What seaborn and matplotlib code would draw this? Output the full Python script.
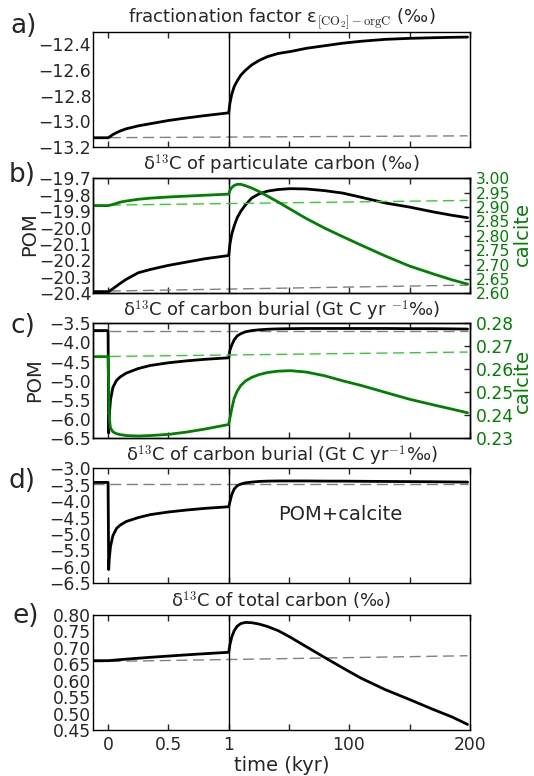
import numpy as np
import matplotlib
matplotlib.use("Agg")
import matplotlib.pyplot as plt
from matplotlib.ticker import FuncFormatter, FixedLocator, NullLocator
import seaborn as sns

# ---------------- data ----------------
time_kyr = [-0.125, 0.0, 0.005, 0.01, 0.02, 0.04, 0.07, 0.1, 0.15, 0.25, 0.35, 0.5, 0.65, 0.8, 1.0,
            2, 3.5, 5.5, 8, 11, 15, 20, 26, 33, 42, 52, 65, 80, 95, 110, 130, 150, 170, 185, 198]

eps_co2_orgc = [-13.13, -13.13, -13.128, -13.125, -13.118, -13.105, -13.09, -13.077, -13.06, -13.037,
                -13.02, -12.995, -12.975, -12.957, -12.935,
                -12.86, -12.79, -12.73, -12.685, -12.64, -12.60, -12.56, -12.525, -12.495, -12.47,
                -12.455, -12.43, -12.41, -12.39, -12.375, -12.36, -12.352, -12.347, -12.344, -12.342]

d13c_pom = [-20.39, -20.39, -20.389, -20.387, -20.382, -20.372, -20.356, -20.34, -20.315, -20.275,
            -20.255, -20.23, -20.21, -20.19, -20.17,
            -20.10, -20.04, -19.99, -19.94, -19.90, -19.86, -19.82, -19.795, -19.778, -19.768,
            -19.763, -19.765, -19.775, -19.79, -19.815, -19.85, -19.875, -19.905, -19.925, -19.94]

d13c_calcite = [2.905, 2.905, 2.9055, 2.906, 2.907, 2.909, 2.913, 2.917, 2.921, 2.927,
                2.931, 2.935, 2.938, 2.941, 2.945,
                2.958, 2.968, 2.975, 2.979, 2.979, 2.974, 2.966, 2.954, 2.938, 2.917,
                2.892, 2.86, 2.827, 2.797, 2.768, 2.73, 2.695, 2.667, 2.647, 2.632]

burial_pom = [-3.69, -3.69, -6.36, -5.9, -5.5, -5.17, -4.99, -4.9, -4.8, -4.68,
              -4.6, -4.53, -4.48, -4.44, -4.40,
              -4.2, -4.07, -3.93, -3.83, -3.77, -3.72, -3.69, -3.67, -3.655, -3.645,
              -3.64, -3.635, -3.635, -3.635, -3.635, -3.635, -3.64, -3.64, -3.645, -3.65]

burial_calcite = [0.2655, 0.2655, 0.252, 0.2385, 0.2345, 0.2328, 0.232, 0.2316, 0.2312, 0.231,
                  0.2312, 0.2317, 0.2327, 0.234, 0.236,
                  0.2388, 0.2428, 0.2474, 0.2505, 0.2530, 0.2550, 0.2565, 0.2577, 0.2586, 0.2592,
                  0.2594, 0.2588, 0.2572, 0.2550, 0.2530, 0.2500, 0.2470, 0.2445, 0.2427, 0.2411]

burial_total = [-3.43, -3.43, -6.08, -5.75, -5.38, -5.05, -4.83, -4.73, -4.62, -4.5,
                -4.41, -4.33, -4.27, -4.22, -4.17,
                -4.02, -3.8, -3.63, -3.53, -3.48, -3.44, -3.42, -3.40, -3.39, -3.385,
                -3.385, -3.385, -3.39, -3.39, -3.395, -3.40, -3.405, -3.41, -3.415, -3.42]

d13c_total = [0.661, 0.661, 0.6611, 0.6613, 0.6616, 0.6622, 0.6632, 0.6641, 0.6656, 0.6685,
              0.6712, 0.675, 0.6787, 0.6822, 0.6865,
              0.71, 0.733, 0.752, 0.766, 0.774, 0.7775, 0.7765, 0.7725, 0.765, 0.752,
              0.732, 0.7035, 0.671, 0.639, 0.608, 0.573, 0.543, 0.512, 0.49, 0.467]

# control runs (dashed)
ctrl_time = [-0.125, 198]
ctrl_eps = [-13.13, -13.115]
ctrl_pom = [-20.388, -20.35]
ctrl_calcite = [2.906, 2.923]
ctrl_burial_pom = [-3.69, -3.69]
ctrl_burial_calcite = [0.2655, 0.2675]
ctrl_burial_total = [-3.47, -3.47]
ctrl_total = [0.658, 0.676]

xtick_values = [0, 0.5, 1, 50.75, 100, 150.25, 200]
xtick_labels = ["0", "0.5", "1", "", "100", "", "200"]

yticks_a = [-13.2, -13.0, -12.8, -12.6, -12.4]
yticks_b = [-20.4, -20.3, -20.2, -20.1, -20.0, -19.9, -19.8, -19.7]
yticks_b2 = [2.60, 2.65, 2.70, 2.75, 2.80, 2.85, 2.90, 2.95, 3.00]
yticks_c = [-6.5, -6.0, -5.5, -5.0, -4.5, -4.0, -3.5]
yticks_c2 = [0.23, 0.24, 0.25, 0.26, 0.27, 0.28]
yticks_d = [-6.5, -6.0, -5.5, -5.0, -4.5, -4.0, -3.5, -3.0]
yticks_e = [0.45, 0.50, 0.55, 0.60, 0.65, 0.70, 0.75, 0.80]

# ---------------- style ----------------
sns.set_style("ticks")
plt.rcParams.update({
    "font.family": ["DejaVu Sans"],
    "mathtext.fontset": "cm",
    "axes.linewidth": 1.0,
    "axes.edgecolor": "black",
})

GREEN = "#008000"
LGREEN = "#33cc33"
GRAY = "0.5"
TICK_FS = 12.3
DASH = (0, (8, 4))


def fwd(t):
    t = np.asarray(t, dtype=float)
    return np.where(t <= 1, t, 1 + (t - 1) / 99.5)


def inv(u):
    u = np.asarray(u, dtype=float)
    return np.where(u <= 1, u, 1 + (u - 1) * 99.5)


def fmt(decimals):
    return FuncFormatter(lambda v, p: f"{v:.{decimals}f}".replace("-", "\u2212"))


def line(ax, x, y, **kw):
    sns.lineplot(x=x, y=y, ax=ax, sort=False, estimator=None, legend=False, **kw)


W, H = 534, 776
fig = plt.figure(figsize=(W / 100, H / 100), dpi=100)
left = 93 / W
width = 377 / W
ph = 115 / H
tops = [31.7, 178.3, 323.3, 468.3, 615]


def make_ax(i):
    ax = fig.add_axes([left, 1 - (tops[i] + 115) / H, width, ph])
    ax.set_xscale("function", functions=(fwd, inv))
    return ax


def finish(ax, yticks, ylim, dec, show_x=False):
    ax.set_xlim(-0.125, 200)
    ax.xaxis.set_major_locator(FixedLocator(xtick_values))
    ax.xaxis.set_minor_locator(NullLocator())
    ax.set_xticklabels(xtick_labels)
    ax.tick_params(axis="x", direction="in", top=True, bottom=True, length=4, width=1,
                   labelsize=TICK_FS, pad=4, labelbottom=show_x)
    ax.set_ylim(*ylim)
    ax.yaxis.set_major_locator(FixedLocator(yticks))
    ax.yaxis.set_minor_locator(NullLocator())
    ax.yaxis.set_major_formatter(fmt(dec))
    ax.tick_params(axis="y", direction="in", left=True, right=False, length=0,
                   labelsize=TICK_FS, pad=1.2)
    ax.axvline(1, color="k", lw=1)
    ax.set_xlabel("")
    ax.set_ylabel("")
    for s in ax.spines.values():
        s.set_visible(True)
        s.set_linewidth(1.0)


def finish_twin(tw, yticks, ylim, fs):
    tw.set_ylim(*ylim)
    tw.yaxis.set_major_locator(FixedLocator(yticks))
    tw.yaxis.set_minor_locator(NullLocator())
    tw.yaxis.set_major_formatter(fmt(2))
    tw.tick_params(axis="y", direction="in", right=True, left=False, length=4, width=1,
                   labelsize=fs, pad=4, labelcolor=GREEN)
    tw.set_ylabel("")


# ---- a) ----
axa = make_ax(0)
line(axa, ctrl_time, ctrl_eps, color=GRAY, lw=1, linestyle=DASH)
line(axa, time_kyr, eps_co2_orgc, color="k", lw=2)
finish(axa, yticks_a, (-13.2, -12.3), 1)
axa.set_title(r"fractionation factor ε$_{\mathrm{[CO_2]-orgC}}$ (‰)", fontsize=13, pad=5)

# ---- b) ----
axb = make_ax(1)
line(axb, ctrl_time, ctrl_pom, color=GRAY, lw=1, linestyle=DASH)
line(axb, time_kyr, d13c_pom, color="k", lw=2)
finish(axb, yticks_b, (-20.4, -19.7), 1)
axb2 = axb.twinx()
line(axb2, ctrl_time, ctrl_calcite, color=LGREEN, lw=1, linestyle=DASH)
line(axb2, time_kyr, d13c_calcite, color=GREEN, lw=2)
finish_twin(axb2, yticks_b2, (2.60, 3.00), 11.2)
axb.set_title(r"δ$^{13}$C of particulate carbon (‰)", fontsize=13, pad=5.8)

# ---- c) ----
axc = make_ax(2)
line(axc, ctrl_time, ctrl_burial_pom, color=GRAY, lw=1, linestyle=DASH)
line(axc, time_kyr, burial_pom, color="k", lw=2)
finish(axc, yticks_c, (-6.5, -3.5), 1)
axc2 = axc.twinx()
line(axc2, ctrl_time, ctrl_burial_calcite, color=LGREEN, lw=1, linestyle=DASH)
line(axc2, time_kyr, burial_calcite, color=GREEN, lw=2)
finish_twin(axc2, yticks_c2, (0.23, 0.28), TICK_FS)
axc.set_title(r"δ$^{13}$C of carbon burial (Gt C yr $^{-1}$‰)", fontsize=13, pad=4.7)

# ---- d) ----
axd = make_ax(3)
line(axd, ctrl_time, ctrl_burial_total, color=GRAY, lw=1, linestyle=DASH)
line(axd, time_kyr, burial_total, color="k", lw=2)
finish(axd, yticks_d, (-6.5, -3.0), 1)
axd.set_title(r"δ$^{13}$C of carbon burial (Gt C yr$^{-1}$‰)", fontsize=13, pad=3.6)
axd.text(0.655, 0.55, "POM+calcite", transform=axd.transAxes, fontsize=14,
         ha="center", va="baseline")

# ---- e) ----
axe = make_ax(4)
line(axe, ctrl_time, ctrl_total, color=GRAY, lw=1, linestyle=DASH)
line(axe, time_kyr, d13c_total, color="k", lw=2)
finish(axe, yticks_e, (0.45, 0.80), 2, show_x=True)
axe.set_title(r"δ$^{13}$C of total carbon (‰)", fontsize=13, pad=5.8)
axe.set_xlabel("time (kyr)", fontsize=14, labelpad=2)

# ---- side labels ----
fig.text(30 / W, 1 - 234 / H, "POM", rotation=90, fontsize=14, ha="center", va="center")
fig.text(35 / W, 1 - 380 / H, "POM", rotation=90, fontsize=14, ha="center", va="center")
fig.text(522 / W, 1 - 234 / H, "calcite", rotation=90, fontsize=14, color=GREEN,
         ha="center", va="center")
fig.text(522 / W, 1 - 381 / H, "calcite", rotation=90, fontsize=14, color=GREEN,
         ha="center", va="center")

# ---- panel letters ----
for lab, xp, yp in [("a)", 10, 33), ("b)", 8.5, 181.5), ("c)", 10, 333),
                    ("d)", 8.5, 488), ("e)", 12, 623)]:
    fig.text(xp / W, 1 - yp / H, lab, fontsize=19, ha="left", va="baseline")

fig.savefig("out.png", dpi=100, facecolor="white")
